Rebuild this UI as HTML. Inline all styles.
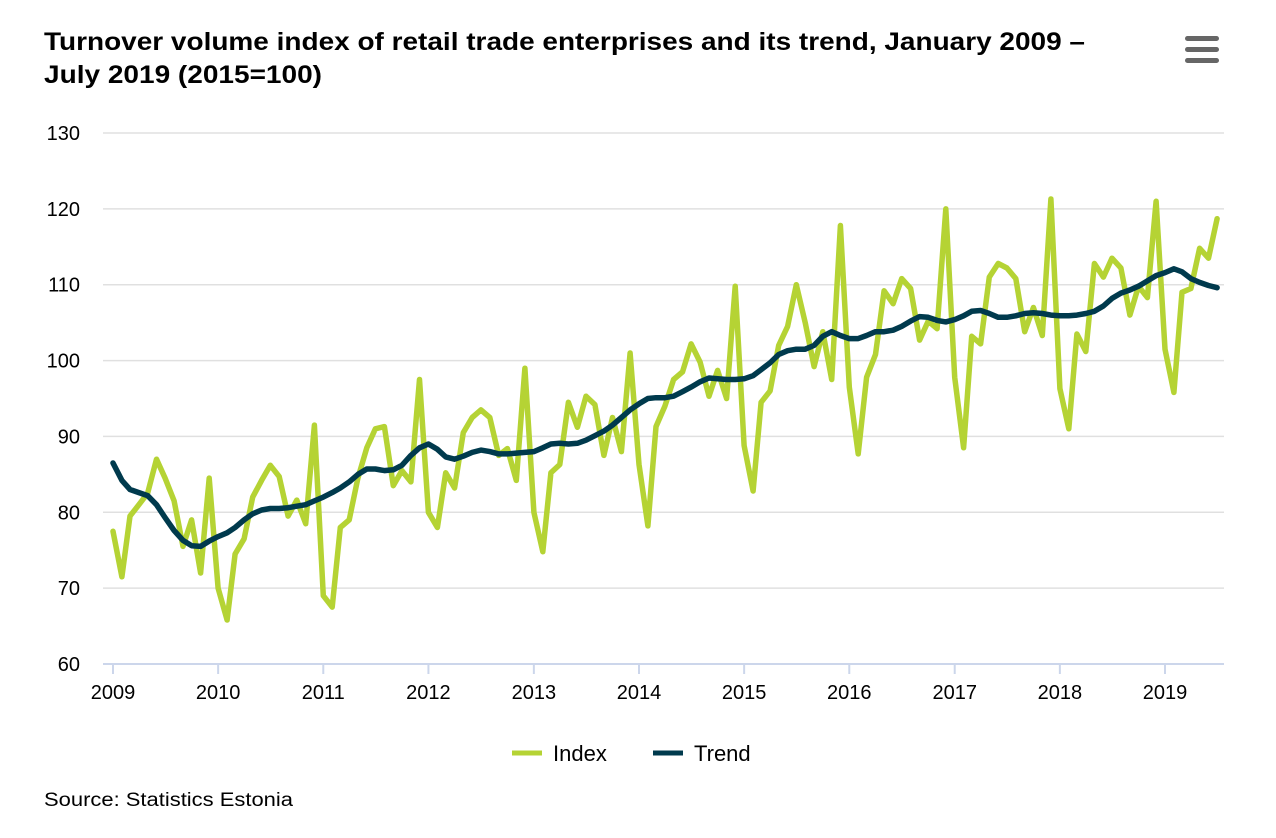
<!DOCTYPE html>
<html><head><meta charset="utf-8"><style>
body{margin:0;background:#fff;font-family:"Liberation Sans",Arial,sans-serif;}
svg{display:block}
</style></head><body>
<svg width="1276" height="838" id="c">
<text x="44" y="50" font-size="25" font-weight="bold" fill="#000" textLength="1041" lengthAdjust="spacingAndGlyphs">Turnover volume index of retail trade enterprises and its trend, January 2009 –</text>
<text x="44" y="83" font-size="25" font-weight="bold" fill="#000" textLength="278" lengthAdjust="spacingAndGlyphs">July 2019 (2015=100)</text>
<g fill="#666">
<rect x="1185" y="36" width="34" height="5" rx="2.5"/><rect x="1185" y="47" width="34" height="5" rx="2.5"/><rect x="1185" y="58" width="34" height="5" rx="2.5"/>
</g>
<g id="grid"></g><g id="xaxis"></g><g id="series"></g>
<g>
<g><line x1="512" y1="753" x2="542" y2="753" stroke="#b5d334" stroke-width="5"/><text x="553" y="761" font-size="22">Index</text></g>
<g><line x1="653" y1="753" x2="683" y2="753" stroke="#003a4d" stroke-width="5"/><text x="694" y="761" font-size="22">Trend</text></g>
</g>
<text x="44" y="806" font-size="19" textLength="249" lengthAdjust="spacingAndGlyphs">Source: Statistics Estonia</text>
</svg>
<script>
const yTicks=[60,70,80,90,100,110,120,130];
const xYears=[2009,2010,2011,2012,2013,2014,2015,2016,2017,2018,2019];
const indexValues=[
77.5,71.5,79.5,81,82.5,87,84.5,81.5,75.5,79,72,84.5,
70,65.8,74.5,76.5,82,84.2,86.2,84.7,79.5,81.6,78.5,91.5,
69,67.5,78,79,84.5,88.5,91,91.3,83.5,85.5,84,97.5,
80,78,85.2,83.2,90.5,92.5,93.5,92.5,87.5,88.4,84.2,99,
80,74.8,85.2,86.3,94.5,91.2,95.3,94.2,87.5,92.5,88,101,
86.3,78.2,91.3,94,97.5,98.5,102.2,99.8,95.3,98.7,95,109.8,
88.8,82.8,94.5,96,102,104.5,110,105,99.2,103.8,97.5,117.8,
96.5,87.7,97.8,100.8,109.2,107.5,110.8,109.5,102.7,105.2,104.2,120,
97.8,88.5,103.2,102.2,111,112.8,112.2,110.8,103.8,107,103.3,121.3,
96.3,91,103.5,101.2,112.8,111,113.5,112.2,106,109.8,108.3,121,
101.5,95.8,109,109.5,114.8,113.5,118.7];
const trendValues=[
86.5,84.2,83,82.6,82.2,81,79.3,77.6,76.3,75.6,75.5,76.2,
76.8,77.3,78,79,79.8,80.3,80.5,80.5,80.6,80.8,81,81.5,
82,82.6,83.2,84,85,85.7,85.7,85.5,85.6,86.2,87.5,88.5,
89,88.3,87.3,87,87.4,87.9,88.2,88,87.7,87.7,87.8,87.9,
88,88.5,89,89.1,89,89.1,89.5,90.1,90.7,91.5,92.5,93.5,
94.3,95,95.1,95.1,95.3,95.9,96.5,97.2,97.7,97.6,97.5,97.5,
97.6,98,98.8,99.7,100.8,101.3,101.5,101.5,102,103.2,103.8,103.3,
102.9,102.9,103.3,103.8,103.8,104,104.5,105.2,105.8,105.7,105.3,105.1,
105.4,105.9,106.5,106.6,106.2,105.7,105.7,105.9,106.2,106.3,106.2,106,
105.9,105.9,106,106.2,106.5,107.2,108.2,108.9,109.3,109.8,110.5,111.2,
111.6,112.1,111.7,110.8,110.3,109.9,109.6];
const NS='http://www.w3.org/2000/svg';
const y=v=>664-(v-60)*(531/70);
const t0=Date.UTC(2009,0,1), pxPerDay=1052/(Date.UTC(2019,0,1)-t0)*86400000;
const xd=(yr,m)=>113+(Date.UTC(yr,m,1)-t0)/86400000*pxPerDay;
const xi=i=>xd(2009+Math.floor(i/12),i%12);
function mk(tag,attrs,parent){const e=document.createElementNS(NS,tag);for(const k in attrs)e.setAttribute(k,attrs[k]);parent.appendChild(e);return e;}
const grid=document.getElementById('grid');
yTicks.forEach(v=>{
  const l=mk('line',{x1:103,x2:1224,y1:y(v),y2:y(v),stroke:v===60?'#ccd6eb':'#e0e0e0','stroke-width':v===60?2:1.5},grid);
  
  
  const t=mk('text',{x:80,y:y(v)+7,'font-size':20,'text-anchor':'end',fill:'#000'},grid);
  t.textContent=v;
  
  
});
const xa=document.getElementById('xaxis');
xYears.forEach(yr=>{
  const x=xd(yr,0);
  const l=mk('line',{x1:x,x2:x,y1:664,y2:674,stroke:'#ccd6eb','stroke-width':2},xa);
  
  
  const t=mk('text',{x:x,y:699,'font-size':20,'text-anchor':'middle',fill:'#000'},xa);
  t.textContent=yr;
  
  
});
const s=document.getElementById('series');
function line(vals,color,name){
  const d=vals.map((v,i)=>(i?'L':'M')+xi(i).toFixed(1)+' '+y(v).toFixed(1)).join(' ');
  const p=mk('path',{d:d,fill:'none',stroke:color,'stroke-width':5.5,'stroke-linejoin':'round','stroke-linecap':'round'},s);
  
  
}
line(indexValues,'#b5d334','index-line');
line(trendValues,'#003a4d','trend-line');
</script>
</body></html>
